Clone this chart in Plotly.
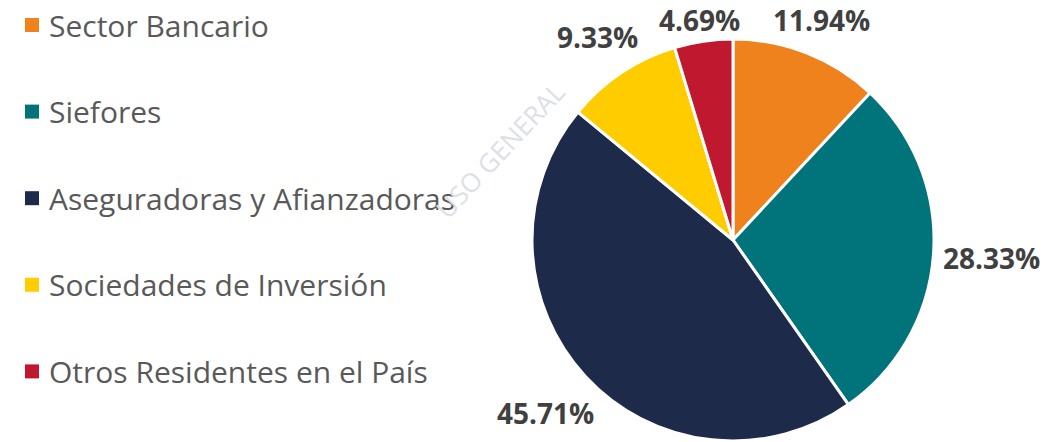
import math
import plotly.graph_objects as go

labels = ["Sector Bancario", "Siefores", "Aseguradoras y Afianzadoras",
          "Sociedades de Inversión", "Otros Residentes en el País"]
shares = [11.94, 28.33, 45.71, 9.33, 4.69]
colors = ["#F0821E", "#00747A", "#1E2A4A", "#FFCC00", "#C0182F"]

W, H = 1063, 442
# pie box in pixels (left, right, top, bottom)
PX0, PX1, PY0, PY1 = 532, 934, 39, 441
LBL_SIZE = 28

fig = go.Figure(go.Pie(
    labels=labels, values=shares, sort=False, direction="clockwise",
    rotation=0, marker=dict(colors=colors, line=dict(color="white", width=3)),
    textinfo="none", showlegend=False, hoverinfo="label+value",
    domain=dict(x=[PX0 / W, PX1 / W], y=[1 - PY1 / H, 1 - PY0 / H]),
))

# percentage labels outside the slice ends, excel style
cx, cy = (PX0 + PX1) / 2, (PY0 + PY1) / 2
R = min(PX1 - PX0, PY1 - PY0) / 2
total = sum(shares)
annots = []
acc = 0
for v in shares:
    mid = (acc + v / 2) / total * 2 * math.pi
    acc += v
    dx, dy = math.sin(mid), math.cos(mid)
    txt = f"{v:.2f}%"
    hw, hh = len(txt) * LBL_SIZE * 0.29, LBL_SIZE * 0.55
    d = R + 8 + abs(dx) * hw + abs(dy) * hh
    ypx = max(cy - d * dy, hh + 5)  # keep the top labels inside the page
    annots.append(dict(x=(cx + d * dx) / W, y=1 - ypx / H,
                       xref="paper", yref="paper", showarrow=False,
                       xanchor="center", yanchor="middle", text=f"<b>{txt}</b>",
                       font=dict(family="Open Sans", size=LBL_SIZE,
                                 color="#404040")))

# legend drawn by hand so the rows can be spaced like the original
shapes = []
for i, (lab, col) in enumerate(zip(labels, colors)):
    yc = 1 - (25 + i * 86.6) / H
    shapes.append(dict(type="rect", xref="paper", yref="paper",
                       x0=25 / W, x1=39 / W, y0=yc - 7 / H, y1=yc + 7 / H,
                       fillcolor=col, line=dict(width=0)))
    annots.append(dict(x=47 / W, y=yc, xref="paper", yref="paper",
                       xanchor="left", yanchor="middle", showarrow=False,
                       text=lab, font=dict(family="Open Sans", size=30,
                                           color="#595959")))

# faint watermark
annots.append(dict(x=500 / W, y=1 - 150 / H, xref="paper", yref="paper",
                   text="USO GENERAL", showarrow=False, textangle=-47,
                   font=dict(family="Open Sans", size=26, color="#DDE0E7")))

fig.update_layout(
    width=W, height=H, margin=dict(l=0, r=0, t=0, b=0),
    paper_bgcolor="white", plot_bgcolor="white",
    shapes=shapes, annotations=annots,
)
fig.write_html("out.html", config={"displayModeBar": False},
               post_script="document.body.style.margin='0';")
